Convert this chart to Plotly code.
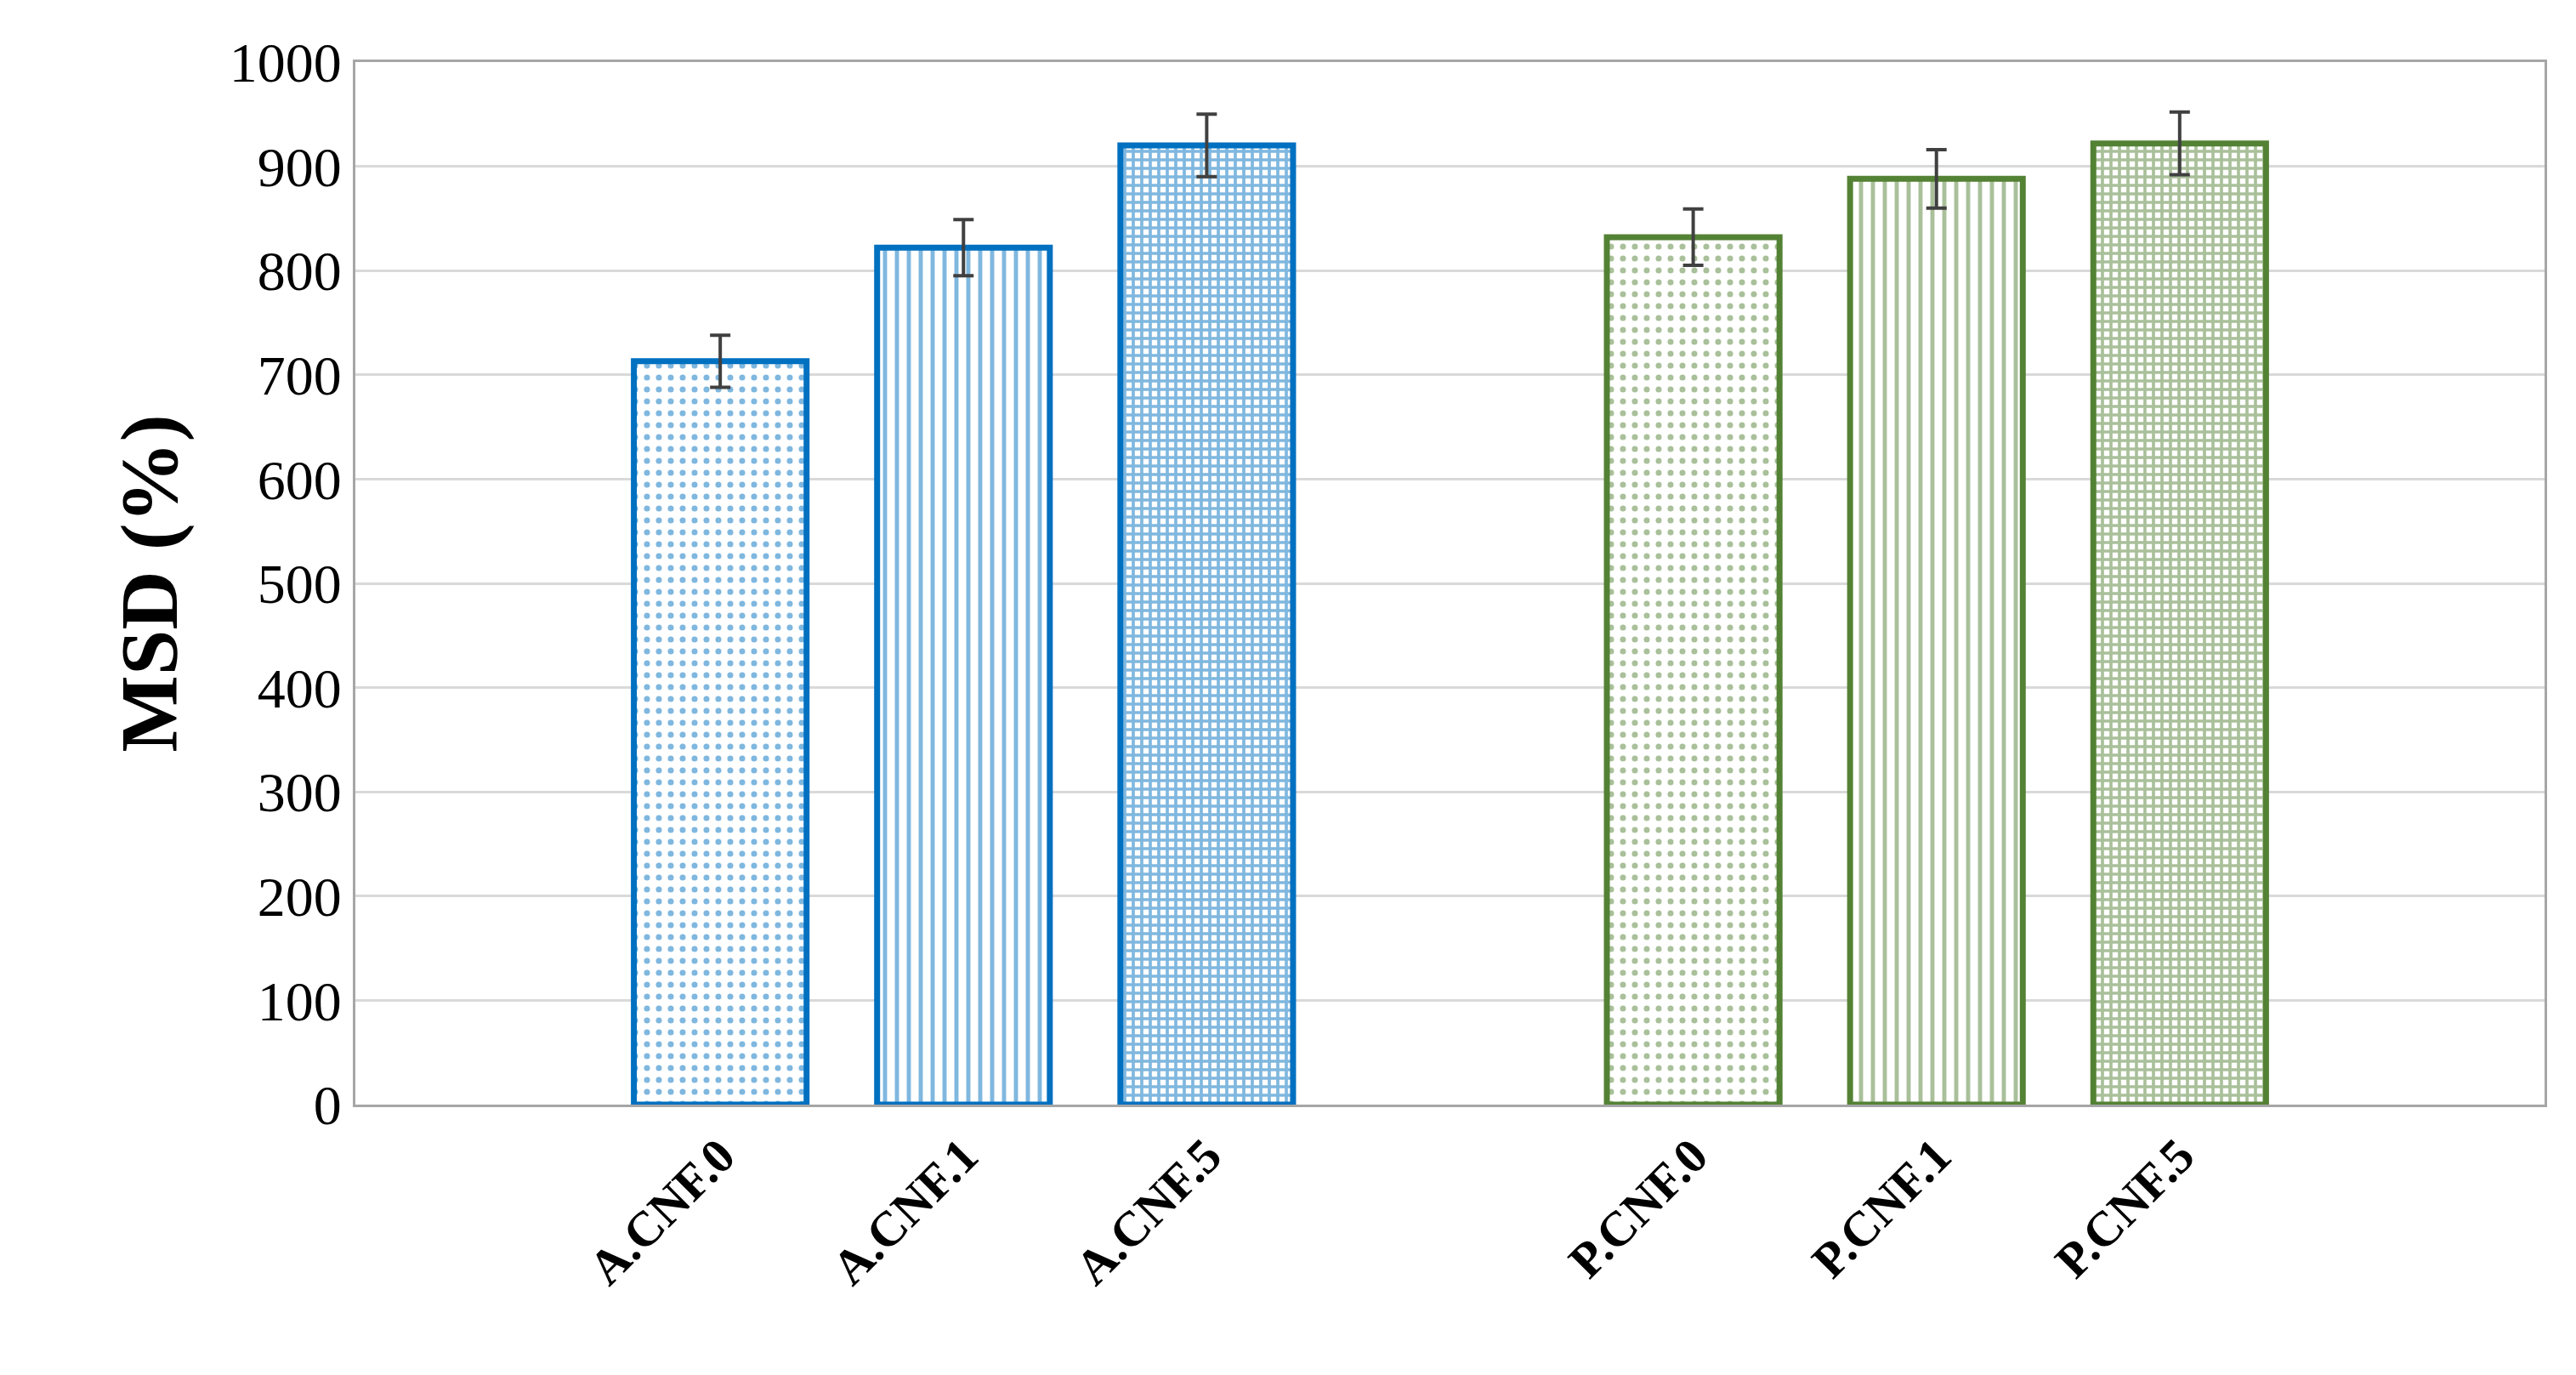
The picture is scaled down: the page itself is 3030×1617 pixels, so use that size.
import plotly.graph_objects as go

labels = ["A.CNF.0", "A.CNF.1", "A.CNF.5", "P.CNF.0", "P.CNF.1", "P.CNF.5"]
positions = [1, 2, 3, 5, 6, 7]
values = [713, 822, 920, 832, 888, 922]
errors = [25, 27, 30, 27, 28, 30]
colors = ["#0070C0"] * 3 + ["#548235"] * 3
shapes = [".", "|", "+", ".", "|", "+"]

fig = go.Figure()
for x, v, e, c, s in zip(positions, values, errors, colors, shapes):
    fig.add_trace(go.Bar(
        x=[x], y=[v], width=0.71,
        marker=dict(color="white", line=dict(color=c, width=7),
                    pattern=dict(shape=s, fgcolor=c, bgcolor="white",
                                 size=14 if s != "+" else 10,
                                 solidity={".": 0.2, "|": 0.35, "+": 0.6}[s])),
        error_y=dict(type="data", array=[e], color="#404040", thickness=4, width=12),
        showlegend=False))

fig.update_layout(
    width=3030, height=1617, plot_bgcolor="white", paper_bgcolor="white",
    margin=dict(l=410, r=45, t=65, b=326),
    font=dict(family="Liberation Serif", color="black"),
    xaxis=dict(range=[-0.5, 8.5], tickvals=positions, ticktext=labels, tickangle=-45,
               tickfont=dict(size=58, family="Liberation Serif", weight="bold"),
               showline=True, linecolor="#a6a6a6", linewidth=3, mirror=True,
               showgrid=False, ticks=""),
    yaxis=dict(range=[0, 1000], dtick=100, tickfont=dict(size=66),
               title=dict(text="<b>MSD (%)</b>", font=dict(size=96), standoff=30),
               gridcolor="#d9d9d9", gridwidth=3, showline=True, linecolor="#a6a6a6",
               linewidth=3, mirror=True, zeroline=False, ticks=""),
)
fig.write_html("out.html")
